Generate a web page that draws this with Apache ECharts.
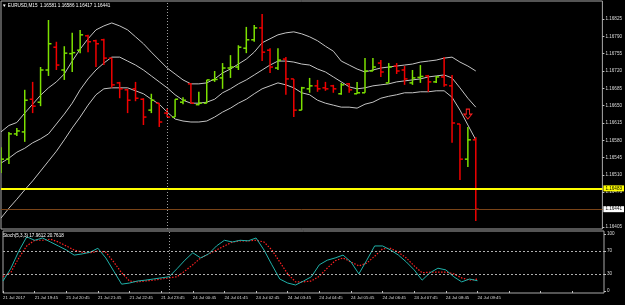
<!DOCTYPE html>
<html>
<head>
<meta charset="utf-8">
<script src="https://cdn.jsdelivr.net/npm/echarts@6/dist/echarts.min.js"></script>
<style>
html,body{margin:0;padding:0;background:#000;}
#main{width:625px;height:305px;}
</style>
</head>
<body>
<div id="main"></div>
<script>
// EURUSD M15, 21 Jul 18:45 .. 24 Jul 09:45
var times = ['21 Jul 18:45','21 Jul 19:00','21 Jul 19:15','21 Jul 19:30','21 Jul 19:45','21 Jul 20:00','21 Jul 20:15','21 Jul 20:30',
  '21 Jul 20:45','21 Jul 21:00','21 Jul 21:15','21 Jul 21:30','21 Jul 21:45','21 Jul 22:00','21 Jul 22:15','21 Jul 22:30',
  '21 Jul 22:45','21 Jul 23:00','21 Jul 23:15','21 Jul 23:30','21 Jul 23:45','24 Jul 00:00','24 Jul 00:15','24 Jul 00:30',
  '24 Jul 00:45','24 Jul 01:00','24 Jul 01:15','24 Jul 01:30','24 Jul 01:45','24 Jul 02:00','24 Jul 02:15','24 Jul 02:30',
  '24 Jul 02:45','24 Jul 03:00','24 Jul 03:15','24 Jul 03:30','24 Jul 03:45','24 Jul 04:00','24 Jul 04:15','24 Jul 04:30',
  '24 Jul 04:45','24 Jul 05:00','24 Jul 05:15','24 Jul 05:30','24 Jul 05:45','24 Jul 06:00','24 Jul 06:15','24 Jul 06:30',
  '24 Jul 06:45','24 Jul 07:00','24 Jul 07:15','24 Jul 07:30','24 Jul 07:45','24 Jul 08:00','24 Jul 08:15','24 Jul 08:30',
  '24 Jul 08:45','24 Jul 09:00','24 Jul 09:15','24 Jul 09:30','24 Jul 09:45'];

var tickLabels = ['21 Jul 2017','21 Jul 19:45','21 Jul 20:45','21 Jul 21:45','21 Jul 22:45','21 Jul 23:45',
  '24 Jul 00:45','24 Jul 01:45','24 Jul 02:45','24 Jul 03:45','24 Jul 04:45','24 Jul 05:45',
  '24 Jul 06:45','24 Jul 07:45','24 Jul 08:45','24 Jul 09:45'];

var opens = [1.16520,1.16542,1.16593,1.16597,1.16663,1.16657,1.16722,1.16768,1.16722,1.16755,
  1.16762,1.16791,1.16781,1.16783,1.16746,1.16696,1.16682,1.16684,1.16663,1.16641,
  1.16655,1.16635,1.16627,1.16657,1.16694,1.16652,1.16655,1.16702,1.16706,1.16726,
  1.16728,1.16766,1.16783,1.16807,1.16762,1.16726,1.16744,1.16704,1.16641,1.16684,
  1.16690,1.16686,1.16690,1.16674,1.16694,1.16674,1.16676,1.16720,1.16736,1.16696,
  1.16730,1.16722,1.16696,1.16707,1.16710,1.16698,1.16708,1.16690,1.16613,1.16542,1.16581];
var highs = [1.16566,1.16597,1.16605,1.16682,1.16698,1.16728,1.16823,1.16779,1.16770,1.16797,
  1.16803,1.16793,1.16783,1.16785,1.16746,1.16698,1.16684,1.16698,1.16665,1.16674,
  1.16655,1.16645,1.16663,1.16667,1.16696,1.16678,1.16702,1.16720,1.16736,1.16752,
  1.16772,1.16809,1.16813,1.16835,1.16766,1.16766,1.16748,1.16704,1.16688,1.16706,
  1.16702,1.16698,1.16692,1.16696,1.16696,1.16698,1.16746,1.16746,1.16742,1.16736,
  1.16736,1.16730,1.16722,1.16732,1.16712,1.16710,1.16748,1.16712,1.16613,1.16607,1.16586];
var lows = [1.16514,1.16532,1.16589,1.16577,1.16635,1.16649,1.16710,1.16722,1.16702,1.16718,
  1.16756,1.16758,1.16728,1.16732,1.16686,1.16665,1.16635,1.16659,1.16611,1.16635,
  1.16607,1.16627,1.16627,1.16653,1.16655,1.16651,1.16655,1.16698,1.16684,1.16706,
  1.16722,1.16756,1.16779,1.16740,1.16716,1.16722,1.16672,1.16627,1.16641,1.16676,
  1.16678,1.16680,1.16676,1.16672,1.16676,1.16674,1.16676,1.16720,1.16708,1.16696,
  1.16714,1.16692,1.16692,1.16696,1.16678,1.16696,1.16688,1.16575,1.16500,1.16526,1.16417];
var closes = [1.16542,1.16593,1.16599,1.16661,1.16649,1.16722,1.16775,1.16732,1.16756,1.16757,
  1.16793,1.16779,1.16775,1.16746,1.16692,1.16684,1.16661,1.16665,1.16627,1.16661,
  1.16617,1.16627,1.16663,1.16661,1.16655,1.16655,1.16702,1.16703,1.16726,1.16728,
  1.16768,1.16783,1.16807,1.16758,1.16728,1.16742,1.16704,1.16641,1.16686,1.16690,
  1.16684,1.16684,1.16684,1.16692,1.16682,1.16676,1.16720,1.16728,1.16718,1.16728,
  1.16720,1.16704,1.16706,1.16709,1.16698,1.16708,1.16692,1.16615,1.16542,1.16581,1.16441];

var upperBand = [1.16597,1.16610,1.16616,1.16635,1.16653,1.16671,1.16686,1.16698,1.16714,1.16740,
  1.16764,1.16785,1.16803,1.16811,1.16817,1.16811,1.16803,1.16789,1.16775,1.16758,
  1.16742,1.16726,1.16714,1.16702,1.16694,1.16694,1.16696,1.16704,1.16716,1.16724,
  1.16734,1.16744,1.16758,1.16777,1.16785,1.16793,1.16797,1.16799,1.16795,1.16789,
  1.16781,1.16770,1.16760,1.16740,1.16732,1.16724,1.16718,1.16722,1.16726,1.16728,
  1.16730,1.16732,1.16734,1.16738,1.16740,1.16742,1.16746,1.16748,1.16738,1.16730,1.16720];
var middleBand = [1.16534,1.16544,1.16556,1.16564,1.16575,1.16583,1.16593,1.16613,1.16633,1.16655,
  1.16682,1.16704,1.16722,1.16736,1.16748,1.16748,1.16740,1.16732,1.16722,1.16710,
  1.16698,1.16686,1.16672,1.16661,1.16655,1.16655,1.16657,1.16663,1.16676,1.16684,
  1.16694,1.16702,1.16712,1.16722,1.16732,1.16740,1.16740,1.16738,1.16734,1.16732,
  1.16724,1.16718,1.16708,1.16698,1.16688,1.16684,1.16686,1.16690,1.16692,1.16694,
  1.16698,1.16700,1.16702,1.16704,1.16708,1.16710,1.16712,1.16706,1.16686,1.16665,1.16647];
var lowerBand = [1.16423,1.16443,1.16461,1.16480,1.16498,1.16518,1.16538,1.16558,1.16581,1.16605,
  1.16627,1.16651,1.16672,1.16684,1.16686,1.16686,1.16686,1.16680,1.16674,1.16663,
  1.16653,1.16637,1.16623,1.16619,1.16617,1.16617,1.16619,1.16627,1.16637,1.16645,
  1.16655,1.16663,1.16674,1.16684,1.16690,1.16696,1.16692,1.16686,1.16676,1.16672,
  1.16661,1.16655,1.16651,1.16647,1.16647,1.16645,1.16653,1.16657,1.16665,1.16669,
  1.16672,1.16676,1.16676,1.16678,1.16678,1.16680,1.16680,1.16667,1.16641,1.16611,1.16581];

var stochMain = [17.5,40,70,95,89,93,86,79,72,63,
  65,68,75,58,35,12,14,17.5,19,21,
  23,25,39,54,67,58,65,79,89,86,
  89,88,93,72,46,21,14,10.5,17.5,25,
  46,54,58,63,51,30,54,79,79,72,
  63,51,37,19,32,40,37,25,16,21,17.96];
var stochSignal = [25,33,58,79,89,89,91,86,79,72,
  68,67,70,68,51,32,17.5,16,17.5,19,
  21,23,25,35,46,58,65,72,79,86,
  88,88,89,86,72,51,30,16,16,17.5,
  26,40,53,58,51,44,49,61,74,75,
  68,58,44,32,33,33,33,30,23,19,20.76];

var priceTicks = [1.16825,1.16790,1.16755,1.16720,1.16685,1.16650,1.16615,1.16580,1.16545,1.16510,1.16476,1.16405];
var stochTicks = [0,30,70,100];
var stochLevels = [70,30];
var alertPrice = 1.16483;   // yellow line
var bidPrice = 1.16441;
var separatorBar = 21;      // day start 24 Jul 00:00
var sellArrow = {bar:59, price:1.16633};

var upColor = '#7CE000';
var downColor = '#F00000';
var textColor = '#DDDDDD';
var fontFam = 'Liberation Sans, Arial, sans-serif';

var cats = times.concat(Array(16).fill(''));
var ohlc = opens.map(function(o,i){ return [i, o, highs[i], lows[i], closes[i]]; });

function renderBar(params, api){
  var i = api.value(0);
  var x = api.coord([i, api.value(2)])[0];
  var hi = api.coord([i, api.value(2)])[1];
  var lo = api.coord([i, api.value(3)])[1];
  var op = api.coord([i, api.value(1)])[1];
  var cl = api.coord([i, api.value(4)])[1];
  var color = api.value(4) >= api.value(1) ? upColor : downColor;
  var st = {stroke: color, lineWidth: 1.5};
  return {type:'group', children:[
    {type:'line', shape:{x1:x, y1:hi, x2:x, y2:lo}, style:st},
    {type:'line', shape:{x1:x-3, y1:op, x2:x, y2:op}, style:st},
    {type:'line', shape:{x1:x, y1:cl, x2:x+3, y2:cl}, style:st}
  ]};
}

function bandSeries(data){
  return {type:'line', data:data, xAxisIndex:0, yAxisIndex:0, showSymbol:false, silent:true,
    lineStyle:{color:'#C4C4C4', width:1}, z:1};
}

var priceLines = bandSeries(middleBand);
priceLines.markLine = {
  symbol:'none', silent:true, animation:false, precision:5,
  data:[
    {yAxis:alertPrice, lineStyle:{color:'#FFFF00', width:2, type:'solid'},
      label:{show:true, position:'end', distance:1, formatter:alertPrice.toFixed(5),
        color:'#000', backgroundColor:'#FFFF00', padding:[1,2,0,2], fontSize:4.6, fontFamily:fontFam}},
    {yAxis:bidPrice, lineStyle:{color:'#7A4418', width:1, type:'solid'},
      label:{show:true, position:'end', distance:1, formatter:bidPrice.toFixed(5),
        color:'#000', backgroundColor:'#FFFFFF', padding:[1,2,0,2], fontSize:4.6, fontFamily:fontFam}},
    {xAxis:separatorBar, lineStyle:{color:'#A0A0A0', width:1, type:[1,2]}, label:{show:false}}
  ]
};

var myChart = echarts.init(document.getElementById('main'));
var option = {
  backgroundColor: '#000',
  animation: false,
  title: [
    {text:'\u25BC EURUSD,M15  1.16581 1.16586 1.16417 1.16441', left:2, top:3, padding:0,
      textStyle:{color:'#FFFFFF', fontSize:4.6, fontWeight:'normal', fontFamily:fontFam}},
    {text:'Stoch(5,3,3) 17.9612 20.7618', left:3, top:233, padding:0,
      textStyle:{color:'#FFFFFF', fontSize:4.6, fontWeight:'normal', fontFamily:fontFam}}
  ],
  grid: [
    {left:1, right:21, top:1, height:228, show:true, borderColor:'#A8A8A8', borderWidth:1},
    {left:1, right:21, top:231, height:62, show:true, borderColor:'#A8A8A8', borderWidth:1}
  ],
  xAxis: [
    {type:'category', gridIndex:0, data:cats, boundaryGap:false, show:false},
    {type:'category', gridIndex:1, data:cats, boundaryGap:false,
      axisLine:{show:false},
      axisTick:{show:true, interval:3, length:2, lineStyle:{color:'#C0C0C0'}},
      axisLabel:{interval:3, align:'left', margin:3, fontSize:4.3, color:textColor, fontFamily:fontFam,
        showMinLabel:true, showMaxLabel:false,
        formatter:function(v, i){ return (i % 4 === 0 && tickLabels[i/4]) ? tickLabels[i/4] : ''; }}}
  ],
  yAxis: [
    {type:'value', gridIndex:0, position:'right', min:1.16401, max:1.168613, scale:true,
      splitLine:{show:false}, axisLine:{show:false},
      axisTick:{show:true, length:2, customValues:priceTicks, lineStyle:{color:'#C0C0C0'}},
      axisLabel:{customValues:priceTicks, margin:3, fontSize:4.6, color:textColor, fontFamily:fontFam,
        formatter:function(v){ return v.toFixed(5); }}},
    {type:'value', gridIndex:1, position:'right', min:-3.51, max:105.26,
      splitLine:{show:false}, axisLine:{show:false},
      axisTick:{show:true, length:2, customValues:stochTicks, lineStyle:{color:'#C0C0C0'}},
      axisLabel:{customValues:stochTicks, margin:3, fontSize:4.6, color:textColor, fontFamily:fontFam}}
  ],
  series: [
    bandSeries(upperBand),
    priceLines,
    bandSeries(lowerBand),
    {
      type:'custom', name:'EURUSD', xAxisIndex:0, yAxisIndex:0, data:ohlc, z:3,
      encode:{x:0, y:[1,2,3,4]}, renderItem:renderBar, clip:true,
      markPoint:{
        silent:true, animation:false,
        data:[{coord:[sellArrow.bar, sellArrow.price],
          symbol:'path://M3,0 L7,0 L7,5 L10,5 L5,10 L0,5 L3,5 Z', symbolSize:[8,10],
          itemStyle:{color:'rgba(0,0,0,0)', borderColor:'#FF2020', borderWidth:1},
          label:{show:false}}]
      }
    },
    {
      type:'line', name:'Main', xAxisIndex:1, yAxisIndex:1, data:stochMain, showSymbol:false, silent:true,
      lineStyle:{color:'#20B2AA', width:1}, z:3,
      markLine:{
        symbol:'none', silent:true, animation:false, label:{show:false},
        data:[
          {yAxis:stochLevels[0], lineStyle:{color:'#B0B0B0', width:1, type:[2,2]}},
          {yAxis:stochLevels[1], lineStyle:{color:'#B0B0B0', width:1, type:[2,2]}},
          {xAxis:separatorBar, lineStyle:{color:'#A0A0A0', width:1, type:[1,2]}}
        ]
      }
    },
    {
      type:'line', name:'Signal', xAxisIndex:1, yAxisIndex:1, data:stochSignal, showSymbol:false, silent:true,
      lineStyle:{color:'#FF2020', width:1.2, type:[1.5,1.5]}, z:2
    }
  ]
};
myChart.setOption(option);
</script>
</body>
</html>
